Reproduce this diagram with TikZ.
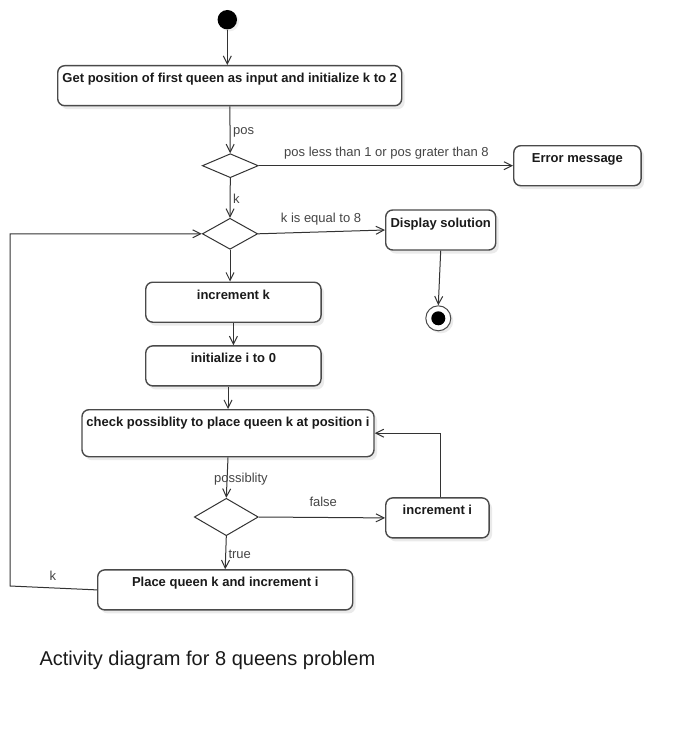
\documentclass[tikz,border=0pt]{standalone}
\usepackage{fontspec}
\setmainfont{Liberation Sans}
\usetikzlibrary{shapes.geometric,arrows.meta,shadows,calc}
\definecolor{boxline}{HTML}{4A4A4A}
\definecolor{txt}{HTML}{1A1A1A}
\definecolor{lblc}{HTML}{454545}
\definecolor{conn}{HTML}{333333}
\begin{document}
\begin{tikzpicture}[x=1pt,y=-1pt,
  act/.style={draw=boxline, line width=1.4pt, rounded corners=7pt, fill=white,
    inner xsep=0pt, inner ysep=6pt, text height=11pt, text depth=17pt,
    minimum height=0pt, font=\fontsize{13}{15}\selectfont\bfseries, text=txt,
    drop shadow={shadow xshift=3pt, shadow yshift=-3.5pt, opacity=0.16}},
  dec/.style={diamond, draw=conn, line width=1pt, fill=white, inner sep=0pt},
  arr/.style={draw=conn, line width=1pt, -{Straight Barb[length=8pt,width=8pt,line width=1pt]}},
  lbl/.style={anchor=base west, inner sep=0pt, text=lblc, font=\fontsize{13}{15}\selectfont},
  startnode/.style={circle, fill=black, inner sep=0pt, minimum size=19.4pt,
    drop shadow={shadow xshift=2pt, shadow yshift=-2pt, opacity=0.12}},
  endnode/.style={circle, draw=boxline, line width=1pt, fill=white, inner sep=0pt, minimum size=25pt,
    drop shadow={shadow xshift=2.5pt, shadow yshift=-2.5pt, opacity=0.16}}
]
\useasboundingbox (0,0) rectangle (681,733);
\fill[white] (0,0) rectangle (681,733);

% nodes
\node[startnode] (start) at (227.3,19.7) {};
\node[act, minimum width=344pt] (b1) at (229.7,85.7) {Get position of first queen as input and initialize k to 2};
\node[dec, minimum width=56pt, minimum height=24pt] (d1) at (230.3,165.7) {};
\node[act, minimum width=127.3pt] (err) at (577.4,165.7) {Error message};
\node[dec, minimum width=55.4pt, minimum height=31pt] (d2) at (230,233.8) {};
\node[act, minimum width=110pt] (disp) at (440.7,230) {Display solution};
\node[endnode] (fin) at (438.3,318.3) {};
\fill[black] (fin.center) circle[radius=7];
\node[act, minimum width=175.3pt] (inck) at (233.4,302.2) {increment k};
\node[act, minimum width=175.3pt] (init) at (233.4,365.9) {initialize i to 0};
\node[act, minimum width=292pt, text depth=24pt] (check) at (228,433.2) {check possiblity to place queen k at position i};
\node[dec, minimum width=64pt, minimum height=37.4pt] (d3) at (226.3,517) {};
\node[act, minimum width=103.3pt] (inci) at (437.4,517.9) {increment i};
\node[act, minimum width=255pt] (place) at (225.2,589.9) {Place queen k and increment i};
\coordinate (loopc) at (10,586);

% connectors
\draw[arr] (start) -- (start |- b1.north);
\draw[arr] (b1) -- (d1);
\draw[arr] (d1.east) -- (err.west);
\draw[arr] (d1.south) -- (d2.north);
\draw[arr] (d2.east) -- (disp.west);
\draw[arr] (disp.south) -- (fin.north);
\draw[arr] (d2.south) -- (d2.south |- inck.north);
\draw[arr] (inck) -- (init);
\draw[arr] (check.north |- init.south) -- (check.north);
\draw[arr] (check.south) -- (d3.north);
\draw[arr] (d3.east) -- (inci.west);
\draw[arr] ($(inci.north)+(3,0)$) |- (check.east);
\draw[arr] (d3.south) -- (place.north);
\draw[arr] (place.west) -- (loopc) -- (loopc |- d2.west) -- (d2.west);

% labels
\node[lbl] (lpos) at (233,135) {pos};
\node[lbl] (lerr) at (284,157) {pos less than 1 or pos grater than 8};
\node[lbl] (lk1) at (233,203) {k};
\node[lbl] (lk8) at (280.7,222) {k is equal to 8};
\node[lbl] (lposs) at (214,482.3) {possiblity};
\node[lbl] (lfalse) at (309.3,506.7) {false};
\node[lbl] (ltrue) at (228.3,558.3) {true};
\node[lbl] (lk2) at (49.3,580.7) {k};
\node[anchor=base west, inner sep=0pt, text=txt, font=\fontsize{20}{24}\selectfont] (cap) at (39.3,665) {Activity diagram for 8 queens problem};
\end{tikzpicture}
\end{document}
